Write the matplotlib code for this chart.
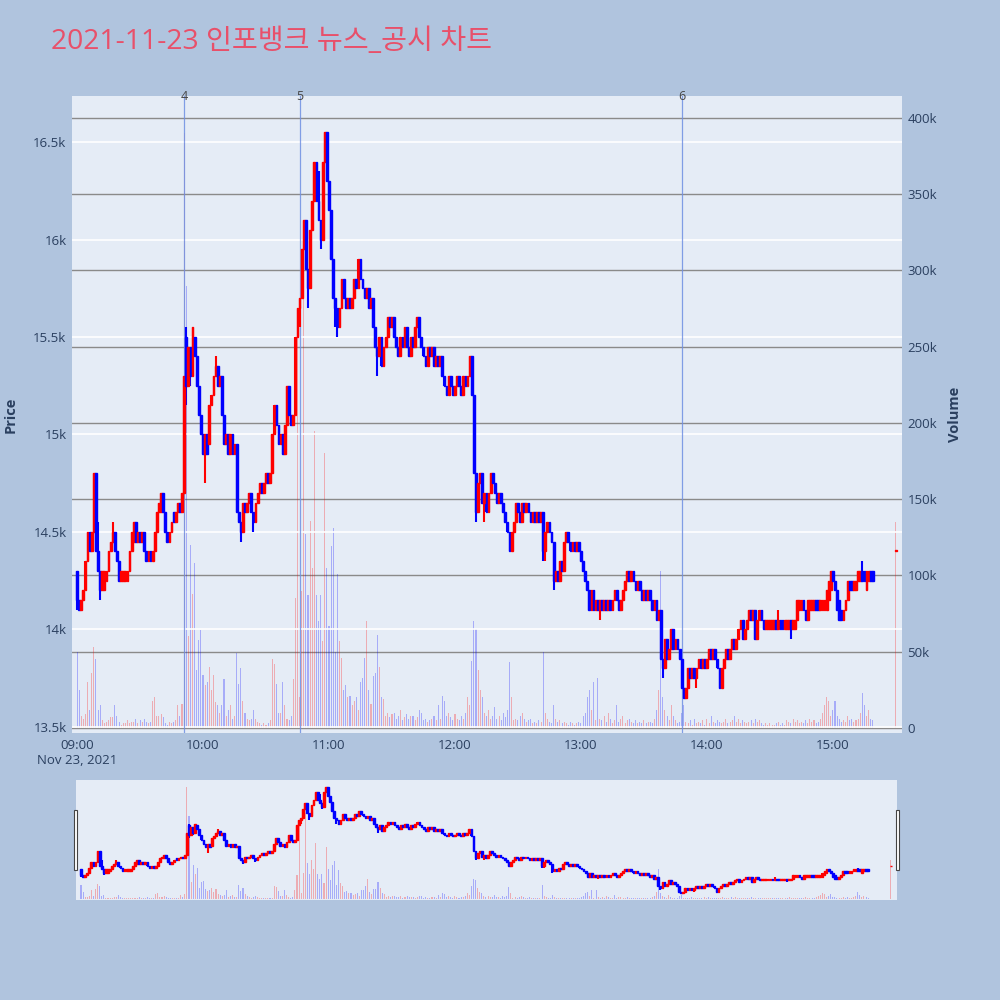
import numpy as np
import pandas as pd
import matplotlib
matplotlib.use("Agg")
import matplotlib.pyplot as plt
import matplotlib.dates as mdates
from matplotlib.ticker import FuncFormatter, MultipleLocator
from matplotlib.patches import Rectangle

plt.rcParams['font.family'] = ['Open Sans', 'Noto Sans CJK KR', 'DejaVu Sans']

title = "2021-11-23 인포뱅크 뉴스_공시 차트"
session_start = "2021-11-23 09:00"

# 1-minute candles 09:00 .. 15:19
opens = [
    14300,14150,14100,14150,14200,14350,14500,14400,14500,14800,
    14400,14300,14200,14200,14250,14300,14400,14450,14500,14400,
    14350,14250,14250,14250,14250,14300,14400,14450,14550,14450,
    14500,14450,14500,14400,14350,14400,14350,14400,14500,14600,
    14600,14700,14600,14500,14450,14500,14600,14550,14600,14650,
    14600,14700,15500,15250,15450,15300,15500,15400,15250,15100,
    15000,14900,15000,14950,15150,15200,15300,15350,15250,15300,
    15100,14950,15000,14900,15000,14900,14950,14600,14550,14500,
    14650,14600,14650,14700,14600,14550,14650,14700,14750,14700,
    14750,14800,14750,14800,15000,15150,15050,14950,15000,14900,
    15050,15250,15100,15050,15100,15500,15650,15700,15950,16100,
    15850,15750,16050,16200,16400,16200,16100,16000,16400,16550,
    16300,16150,15900,15700,15650,15550,15650,15800,15700,15650,
    15700,15650,15700,15800,15750,15900,15800,15750,15700,15750,
    15650,15700,15550,15450,15400,15500,15350,15450,15500,15600,
    15550,15600,15500,15450,15400,15500,15450,15550,15450,15400,
    15500,15450,15550,15600,15500,15450,15400,15350,15450,15400,
    15450,15350,15400,15350,15400,15300,15250,15200,15300,15250,
    15200,15250,15300,15250,15200,15300,15250,15300,15400,15200,
    14800,14600,14750,14800,14650,14700,14600,14700,14800,14750,
    14700,14650,14700,14650,14600,14550,14500,14400,14500,14550,
    14650,14600,14550,14650,14600,14650,14600,14550,14600,14550,
    14600,14550,14600,14400,14500,14550,14500,14450,14250,14300,
    14250,14350,14300,14450,14500,14450,14400,14450,14400,14450,
    14400,14350,14300,14250,14200,14100,14200,14100,14150,14100,
    14150,14100,14150,14100,14150,14100,14150,14200,14150,14100,
    14150,14200,14250,14300,14250,14300,14250,14200,14250,14200,
    14150,14200,14150,14200,14150,14100,14150,14050,14100,13850,
    13800,13950,13850,13900,14000,13900,13950,13900,13850,13700,
    13650,13700,13800,13750,13800,13750,13800,13850,13800,13850,
    13800,13850,13900,13850,13900,13850,13800,13700,13800,13850,
    13900,13850,13900,13950,13900,13950,14000,14050,13950,14000,
    14050,14100,14050,14100,13950,14050,14100,14050,14000,14000,
    14000,14000,14000,14050,14000,14050,14050,14000,14000,14000,
    14050,14000,14000,14050,14100,14100,14150,14100,14050,14100,
    14100,14100,14150,14150,14100,14100,14100,14100,14150,14200,
    14300,14250,14200,14150,14100,14050,14100,14150,14250,14250,
    14200,14200,14250,14250,14300,14300,14200,14250,14300,14300,
]
closes = [
    14150,14100,14150,14200,14350,14500,14400,14500,14800,14400,
    14300,14200,14300,14300,14300,14400,14450,14500,14400,14350,
    14250,14300,14300,14300,14300,14400,14500,14550,14450,14500,
    14450,14500,14400,14350,14400,14350,14400,14500,14600,14650,
    14700,14600,14500,14450,14500,14550,14550,14600,14650,14600,
    14700,15300,15250,15450,15300,15550,15400,15250,15100,15000,
    14900,15000,14900,15150,15200,15300,15350,15250,15300,15100,
    14950,15000,14900,15000,14900,14950,14600,14550,14500,14650,
    14600,14650,14700,14600,14550,14650,14700,14750,14700,14750,
    14800,14750,14800,15000,15150,15050,14950,15000,14900,15050,
    15250,15100,15050,15100,15500,15650,15700,15950,16100,15850,
    15750,16050,16200,16400,16200,16100,16000,16400,16550,16300,
    16150,15900,15700,15650,15550,15650,15800,15700,15650,15700,
    15650,15700,15800,15750,15900,15800,15750,15700,15750,15650,
    15700,15550,15450,15400,15500,15350,15450,15500,15600,15550,
    15600,15500,15450,15400,15500,15450,15550,15450,15400,15500,
    15450,15550,15600,15500,15450,15400,15350,15450,15400,15450,
    15350,15400,15350,15400,15300,15250,15200,15300,15250,15200,
    15250,15300,15250,15200,15300,15250,15300,15400,15200,14800,
    14600,14750,14800,14650,14700,14600,14700,14800,14750,14700,
    14650,14700,14650,14600,14550,14500,14400,14500,14550,14650,
    14600,14550,14650,14600,14650,14600,14550,14600,14550,14600,
    14550,14600,14400,14500,14550,14500,14450,14250,14300,14250,
    14350,14300,14450,14500,14450,14400,14450,14400,14450,14400,
    14350,14300,14250,14200,14100,14200,14100,14150,14100,14150,
    14100,14150,14100,14150,14100,14150,14200,14150,14100,14150,
    14200,14250,14300,14250,14300,14250,14200,14250,14200,14150,
    14200,14150,14200,14150,14100,14150,14050,14100,13850,13800,
    13950,13850,13900,14000,13900,13950,13900,13850,13700,13650,
    13700,13800,13750,13800,13750,13800,13850,13800,13850,13800,
    13850,13900,13850,13900,13850,13800,13700,13800,13850,13900,
    13850,13900,13950,13900,13950,14000,14050,13950,14000,14050,
    14100,14050,14100,13950,14050,14100,14050,14000,14050,14050,
    14050,14050,14050,14000,14050,14000,14000,14050,14050,14050,
    14000,14050,14050,14150,14150,14150,14100,14050,14150,14150,
    14150,14150,14100,14100,14150,14150,14150,14200,14250,14300,
    14250,14200,14100,14050,14050,14100,14150,14250,14200,14200,
    14250,14250,14300,14300,14250,14250,14300,14300,14250,14250,
]
# volume in thousands of shares
volumes_k = [
    50,25,8,6,9,30,12,36,53,45,
    12,15,5,3,4,5,7,7,15,8,
    4,2,3,3,5,3,4,4,6,3,
    5,4,6,4,3,4,18,20,8,8,
    9,7,3,2,4,3,4,5,15,8,
    16,390,290,60,120,88,108,38,58,64,
    35,28,30,40,25,35,17,15,10,15,
    32,8,12,15,6,8,49,29,39,18,
    10,6,5,6,12,6,4,3,2,3,
    2,3,5,45,42,29,10,10,30,15,
    6,5,8,32,85,272,20,90,300,127,
    87,136,105,195,87,70,87,57,180,105,
    67,119,131,50,101,57,46,25,28,20,
    21,15,18,20,12,30,33,46,70,25,
    16,34,36,61,40,20,19,8,10,7,
    9,10,6,8,12,5,7,9,6,8,
    8,5,7,12,10,5,6,4,5,6,
    8,5,15,6,21,18,8,10,7,5,
    9,6,5,8,6,10,20,15,44,70,
    65,38,25,20,10,8,12,6,8,14,
    6,8,5,10,7,12,43,20,5,6,
    5,8,10,6,4,5,6,3,4,3,
    5,4,50,10,6,4,3,15,6,4,
    5,3,4,3,2,4,3,2,3,4,
    3,8,10,20,25,12,30,5,33,6,
    5,8,4,10,6,3,5,15,4,6,
    8,3,5,6,4,3,5,3,4,3,
    5,3,4,4,3,6,12,25,103,20,
    12,8,5,15,8,5,3,4,10,15,
    4,3,5,2,6,3,4,3,5,2,
    6,3,8,4,3,5,4,3,4,6,
    3,4,5,8,4,6,3,5,4,3,
    4,5,3,6,4,5,3,2,3,2,
    3,2,2,3,4,2,3,2,5,4,
    3,6,4,5,3,4,3,5,3,6,
    4,5,3,4,6,10,15,20,18,8,
    12,18,8,6,4,5,4,8,5,6,
    4,5,6,10,23,15,8,12,6,5,
]
# closing auction
auction_time = "2021-11-23 15:30"
auction_open = 14400
auction_close = 14400
auction_volume_k = 135

# wick extremes (minute index -> price)
wick_high = {0: 14300, 10: 14550, 17: 14550, 52: 15550, 66: 15400, 115: 16350,
             119: 16450, 262: 14300, 334: 14100, 374: 14350}
wick_low = {0: 14100, 11: 14150, 52: 15150, 54: 15250, 60: 14900, 61: 14750,
            78: 14450, 84: 14500, 106: 15550, 110: 15650, 116: 15950, 123: 15550,
            124: 15500, 143: 15300, 190: 14550, 194: 14550, 222: 14350, 223: 14350,
            227: 14200, 249: 14050, 279: 13750, 295: 13700, 340: 13950}

news_times = ["2021-11-23 09:51", "2021-11-23 10:46", "2021-11-23 13:48"]
news_labels = ["4", "5", "6"]

# ---------------------------------------------------------------------------
times = pd.date_range(session_start, periods=len(closes), freq="min")
times = times.append(pd.DatetimeIndex([auction_time]))
x = mdates.date2num(times.to_pydatetime())
o = np.array(opens + [auction_open], dtype=float)
c = np.array(closes + [auction_close], dtype=float)
v = np.array(volumes_k + [auction_volume_k], dtype=float) * 1000
hi = np.maximum(o, c)
lo = np.minimum(o, c)
for k, val in wick_high.items():
    hi[k] = max(hi[k], val)
for k, val in wick_low.items():
    lo[k] = min(lo[k], val)

up = c >= o
ccol = np.where(up, '#FF0000', '#0000FF')
vcol = [(1, 0, 0, 0.27) if u else (0, 0, 1, 0.27) for u in up]

MIN = 1 / 1440
xmin = mdates.date2num(pd.Timestamp("2021-11-23 08:57:36"))
xmax = mdates.date2num(pd.Timestamp("2021-11-23 15:32:54"))
PRICE_LIM = (13469, 16736)
VOL_LIM = (-3300, 414400)

TXT = '#2a3f5f'
BG = '#E5ECF6'

fig = plt.figure(figsize=(10, 10), dpi=100, facecolor='#B0C4DE')


def draw(ax_p, ax_v, body_w, wick_lw, vol_w, edge_lw):
    ax_v.bar(x, v, width=vol_w * MIN, color=vcol, linewidth=0, zorder=2)
    ax_p.vlines(x, lo, hi, colors=ccol, linewidth=wick_lw, zorder=3)
    h = np.maximum(np.abs(c - o), 6)
    ax_p.bar(x, h, bottom=np.minimum(o, c), width=body_w * MIN, color=ccol,
             edgecolor=ccol, linewidth=edge_lw, zorder=4)
    for a in (ax_p, ax_v):
        a.set_xlim(xmin, xmax)
        for s in a.spines.values():
            s.set_visible(False)
    ax_p.set_ylim(*PRICE_LIM)
    ax_v.set_ylim(*VOL_LIM)
    ax_v.set_facecolor(BG)
    ax_p.set_zorder(ax_v.get_zorder() + 1)
    ax_p.patch.set_visible(False)


# main chart
ax_v = fig.add_axes([0.072, 0.267, 0.830, 0.637])
ax_p = ax_v.twinx()
ax_p.yaxis.tick_left()
ax_p.yaxis.set_label_position('left')
ax_v.yaxis.tick_right()
ax_v.yaxis.set_label_position('right')
draw(ax_p, ax_v, 0.85, 1.5, 0.5, 1.0)

ax_v.grid(axis='y', color='#8a8a8a', linewidth=1.0, zorder=0)
ax_v.set_axisbelow(True)
ax_p.grid(axis='y', color='white', linewidth=1.2, zorder=1)
ax_p.set_axisbelow(True)

ax_p.yaxis.set_major_locator(MultipleLocator(500))
ax_p.yaxis.set_major_formatter(FuncFormatter(lambda val, p: f"{val/1000:g}k"))
ax_v.yaxis.set_major_locator(MultipleLocator(50000))
ax_v.yaxis.set_major_formatter(FuncFormatter(lambda val, p: "0" if val == 0 else f"{val/1000:g}k"))

hour_ticks = pd.date_range("2021-11-23 09:00", "2021-11-23 15:00", freq="h")
ax_v.set_xticks(mdates.date2num(hour_ticks.to_pydatetime()))
ax_v.set_xticklabels([t.strftime("%H:%M") + ("\nNov 23, 2021" if i == 0 else "")
                      for i, t in enumerate(hour_ticks)])
for a in (ax_p, ax_v):
    a.tick_params(axis='both', length=0, colors=TXT, labelsize=9.5, pad=4)

ax_p.set_ylabel("Price", fontsize=10.5, fontweight='bold', color=TXT)
ax_p.yaxis.set_label_coords(-0.065, 0.5)
ax_v.set_ylabel("Volume", fontsize=10.5, fontweight='bold', color=TXT, rotation=90)
ax_v.yaxis.set_label_coords(1.055, 0.5)

# news markers
for t, lab in zip(news_times, news_labels):
    xn = mdates.date2num(pd.Timestamp(t))
    ax_p.axvline(xn, color='#6f8fe3', linewidth=0.9, alpha=0.85, zorder=2.5)
    ax_p.text(xn, 1.0, lab, transform=ax_p.get_xaxis_transform(), ha='center',
              va='center', fontsize=9, color='#444444')

# range slider
sl_v = fig.add_axes([0.076, 0.100, 0.821, 0.120])
sl_p = sl_v.twinx()
draw(sl_p, sl_v, 0.85, 1.5, 0.5, 1.0)
for a in (sl_v, sl_p):
    a.tick_params(left=False, right=False, bottom=False, labelleft=False,
                  labelright=False, labelbottom=False)

for hx in (0.0735, 0.8955):
    fig.patches.append(Rectangle((hx, 0.130), 0.0035, 0.060, transform=fig.transFigure,
                                 facecolor='white', edgecolor='#444444', linewidth=0.8))

fig.text(0.051, 0.958, title, fontsize=20.3, color='#E8506A', ha='left', va='center')

fig.savefig("out.png", dpi=100, facecolor=fig.get_facecolor())
